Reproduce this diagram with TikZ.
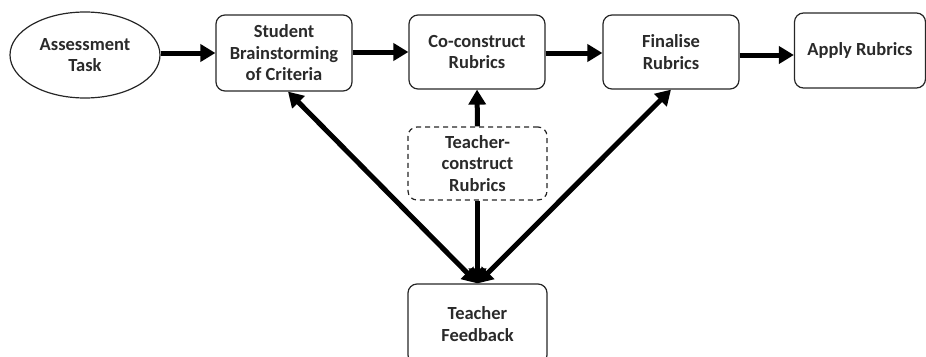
\documentclass[tikz,border=0pt]{standalone}
\usepackage{fontspec}
\setmainfont{Carlito}
\usetikzlibrary{arrows.meta,shapes.geometric}
\definecolor{txt}{HTML}{2A2A2A}
\begin{document}
\begin{tikzpicture}[x=1pt,y=-1pt,
  every node/.style={font=\bfseries\fontsize{18.5}{21.5}\selectfont, text=txt, align=center},
  box/.style={draw=black!85, line width=1.2pt, rounded corners=9pt, inner sep=0pt},
  dbox/.style={box, dashed, dash pattern=on 5pt off 4pt},
  arr/.style={line width=5pt, draw=black, -{Triangle[length=15pt,width=17pt]}},
  dblarr/.style={line width=5pt, draw=black, {Triangle[length=15pt,width=17pt]}-{Triangle[length=15pt,width=17pt]}}
]
\useasboundingbox (0,0) rectangle (926,356);
\node[draw=black!85, line width=1.2pt, ellipse, minimum width=150pt, minimum height=86pt, inner sep=0pt] (at) at (85,55) {Assessment\\Task};
\node[box, minimum width=136pt, minimum height=76pt] (sb) at (284,53) {Student\\Brainstorming\\of Criteria};
\node[box, minimum width=136pt, minimum height=74pt] (cc) at (477,52) {Co-construct\\Rubrics};
\node[box, minimum width=136pt, minimum height=74pt] (fr) at (671,52) {Finalise\\Rubrics};
\node[box, minimum width=131pt, minimum height=75pt] (ar) at (860,50.5) {Apply Rubrics};
\node[dbox, minimum width=139pt, minimum height=73pt] (tc) at (477.5,163.5) {Teacher-\\construct\\Rubrics};
\node[box, minimum width=139pt, minimum height=80pt] (tf) at (477.5,324) {Teacher\\Feedback};
\draw[arr] (at.east |- 0,53) -- (sb.west |- 0,53);
\draw[arr] (sb.east |- 0,52) -- (cc.west |- 0,52);
\draw[arr] (cc.east |- 0,53) -- (fr.west |- 0,53);
\draw[arr] (fr.east |- 0,55) -- (ar.west |- 0,55);
\draw[arr] (tc.north) -- (cc.south);
\draw[arr] (tc.south) -- (tf.north);
\draw[dblarr] ([xshift=4pt]sb.south) -- (tf.north);
\draw[dblarr] (fr.south) -- (tf.north);
\end{tikzpicture}
\end{document}
